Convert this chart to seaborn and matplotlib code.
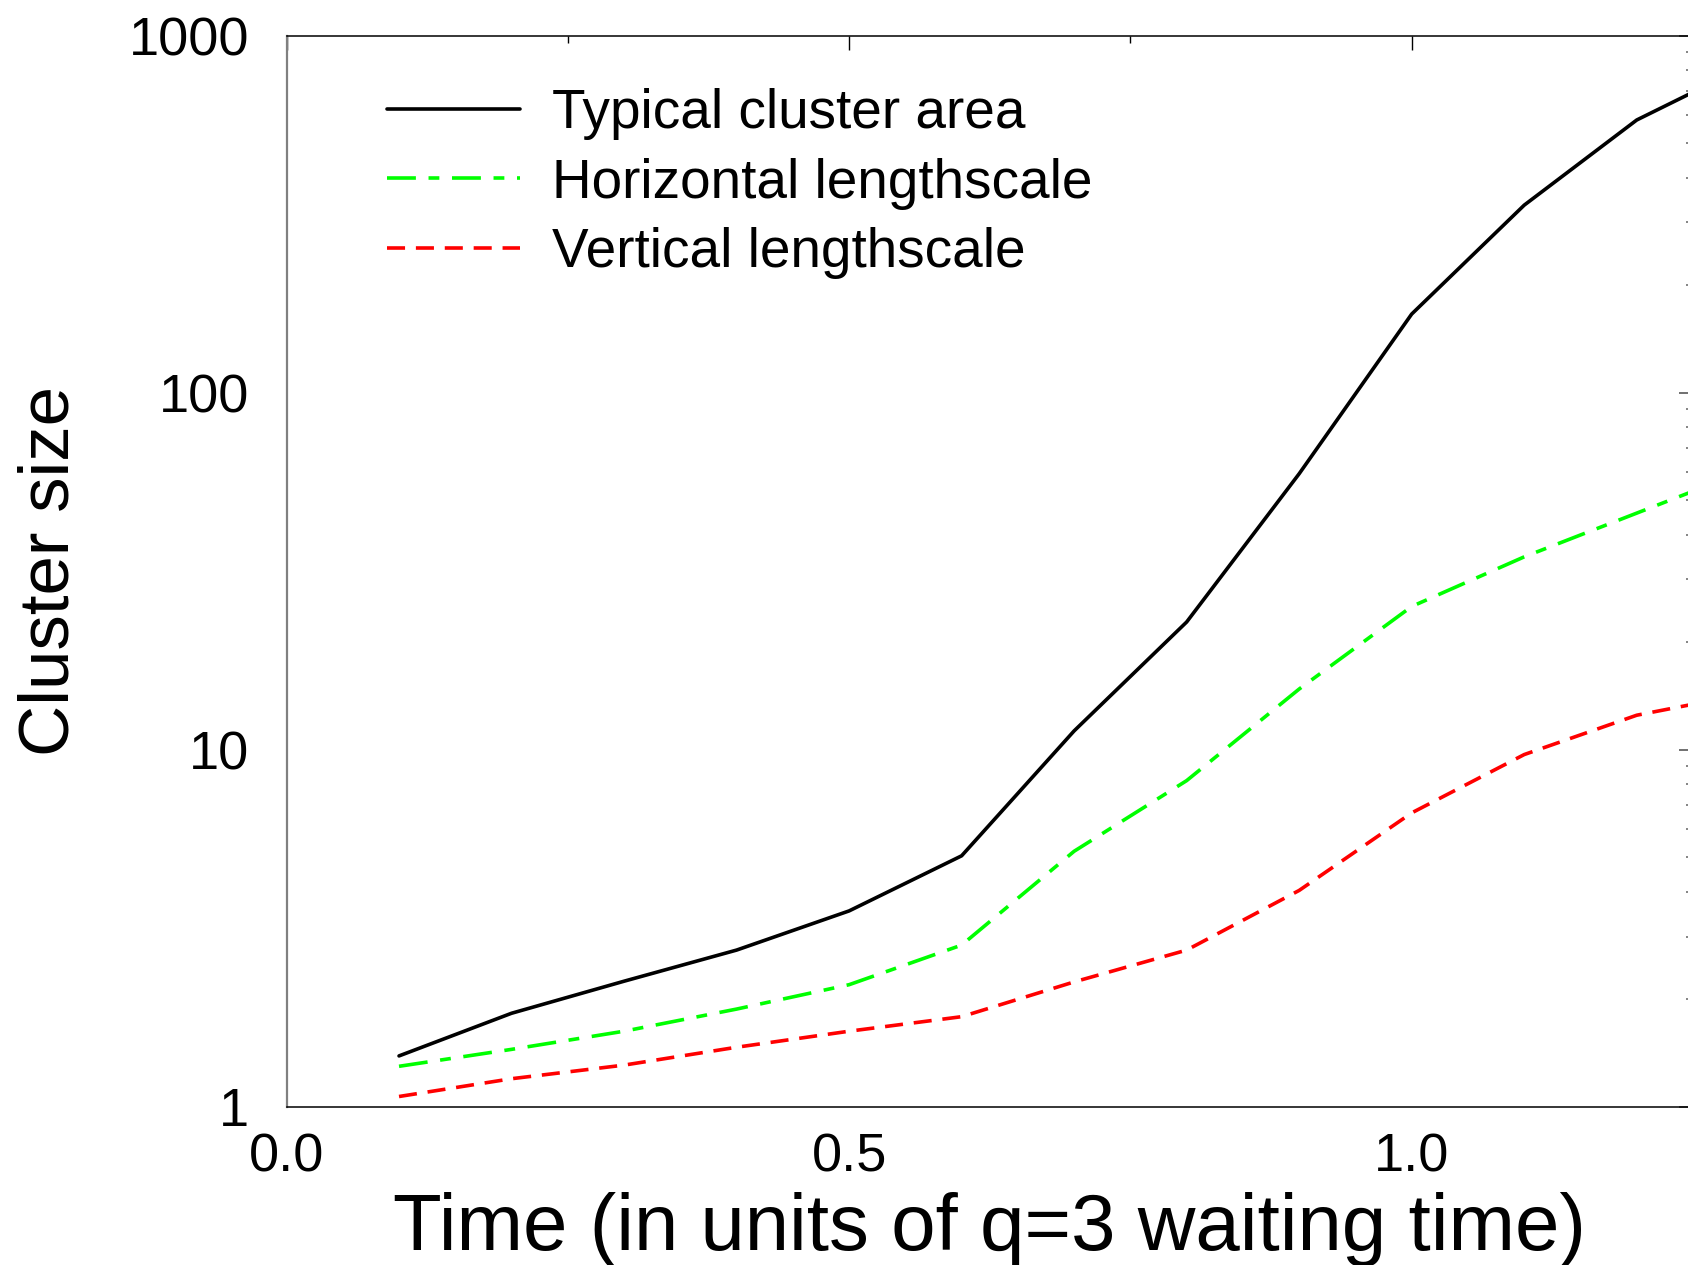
import matplotlib
matplotlib.use("Agg")
import matplotlib.pyplot as plt
import matplotlib.ticker as mticker
import seaborn as sns
import pandas as pd

# ---- data ----
time = [0.1, 0.2, 0.3, 0.4, 0.5, 0.6, 0.7, 0.8, 0.9, 1.0, 1.1, 1.2, 1.3]
area = [1.39, 1.83, 2.25, 2.75, 3.54, 5.05, 11.3, 22.8, 59.3, 166, 335, 580, 830]
horiz = [1.30, 1.45, 1.63, 1.88, 2.20, 2.84, 5.2, 8.2, 14.8, 25.2, 34.7, 46.0, 61]
vert = [1.07, 1.20, 1.31, 1.47, 1.63, 1.79, 2.24, 2.75, 4.04, 6.66, 9.7, 12.5, 14.4]
series_names = ["Typical cluster area", "Horizontal lengthscale", "Vertical lengthscale"]
x_ticks = [0.0, 0.5, 1.0]
x_ticklabels = ["0.0", "0.5", "1.0"]
y_ticks = [1, 10, 100, 1000]
y_ticklabels = ["1", "10", "100", "1000"]

sns.set_style("white")
plt.rcParams["font.family"] = ["Liberation Sans", "DejaVu Sans"]
plt.rcParams["text.color"] = "black"
plt.rcParams["axes.labelcolor"] = "black"
plt.rcParams["xtick.labelcolor"] = "black"
plt.rcParams["ytick.labelcolor"] = "black"

W, H = 1688, 1265
fig = plt.figure(figsize=(W / 100, H / 100), dpi=100)
left, right, top, bottom = 286.5, 1693.0, 35.5, 1107.0
ax = fig.add_axes([left / W, 1 - bottom / H, (right - left) / W, (bottom - top) / H])

df = pd.DataFrame({
    "time": time * 3,
    "size": area + horiz + vert,
    "series": [series_names[0]] * len(time) + [series_names[1]] * len(time) + [series_names[2]] * len(time),
})
palette = {series_names[0]: "#000000", series_names[1]: "#00ff00", series_names[2]: "#ff0000"}
dashes = {series_names[0]: "", series_names[1]: (8, 3.5, 3, 3.5), series_names[2]: (5, 3)}
sns.lineplot(data=df, x="time", y="size", hue="series", style="series",
             palette=palette, dashes=dashes, linewidth=2.6, ax=ax, legend=False,
             hue_order=series_names, style_order=series_names)

ax.set_yscale("log")
ax.set_xlim(0, 1.25)
ax.set_ylim(1, 1000)

ax.set_xticks(x_ticks)
ax.set_xticklabels(x_ticklabels)
ax.xaxis.set_minor_locator(mticker.MultipleLocator(0.25))
ax.set_yticks(y_ticks)
ax.set_yticklabels(y_ticklabels)
ax.yaxis.set_minor_locator(mticker.LogLocator(base=10, subs=range(2, 10)))
ax.yaxis.set_minor_formatter(mticker.NullFormatter())

ax.tick_params(axis="both", which="both", direction="in", top=True, right=True)
ax.tick_params(axis="x", which="major", length=10, width=1.0, color="#000000",
               labelsize=39, pad=18, labelcolor="black")
ax.tick_params(axis="x", which="minor", length=5, width=1.0, color="#000000")
ax.tick_params(axis="y", which="major", length=10, width=1.4, color="#707070",
               labelsize=39, pad=27, labelcolor="black")
ax.tick_params(axis="y", which="minor", length=5, width=1.2, color="#707070")

for side in ["left", "right"]:
    ax.spines[side].set_color("#808080")
    ax.spines[side].set_linewidth(1.6)
for side in ["top", "bottom"]:
    ax.spines[side].set_color("#000000")
    ax.spines[side].set_linewidth(1.1)

ax.set_xlabel("Time (in units of q=3 waiting time)", fontsize=57.5, color="black")
ax.set_ylabel("Cluster size", fontsize=51, color="black")
ax.xaxis.set_label_coords(0.5, -0.079)
ax.yaxis.set_label_coords(-0.144, 0.5)

handles = ax.get_lines()[:3]
leg = ax.legend(handles, series_names, loc="upper left", frameon=False,
                bbox_to_anchor=(387 / W, 1 - 88 / H), bbox_transform=fig.transFigure,
                fontsize=39.5, handlelength=2.42, handletextpad=0.58, labelspacing=0.32,
                borderpad=0, borderaxespad=0)
for t in leg.get_texts():
    t.set_color("black")

fig.savefig("out.png", dpi=100)
